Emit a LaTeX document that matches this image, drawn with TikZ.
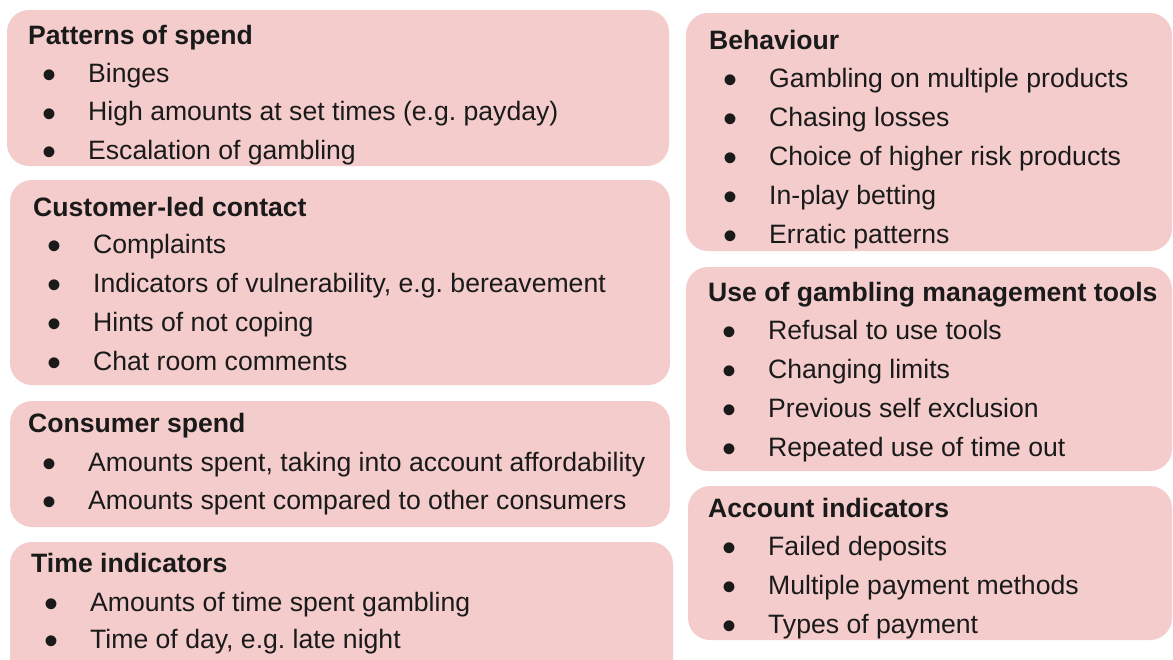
\documentclass[tikz,border=0pt]{standalone}
\usepackage{fontspec}
\setmainfont{Liberation Sans}
\usetikzlibrary{positioning}
\usepackage{xcolor}
\definecolor{boxpink}{HTML}{F4CCCC}
\definecolor{inktext}{HTML}{1A1A1A}
\newcommand{\bul}{\llap{\smash{\raisebox{-6.5pt}{\scalebox{1.5}{\textbullet}}}\hspace{32pt}}}
\frenchspacing
\tikzset{
  panel/.style={fill=boxpink, rounded corners=22pt},
  heading/.style={anchor=base west, inner sep=0pt, text=inktext, font=\fontsize{26.6pt}{32pt}\selectfont\bfseries},
  entry/.style={anchor=base west, inner sep=0pt, text=inktext, font=\fontsize{26.6pt}{32pt}\selectfont},
}

\begin{document}
\begin{tikzpicture}[x=1pt, y=-1pt]

\useasboundingbox (0,0) rectangle (1173,659);
\clip (0,0) rectangle (1173,659);

% panels
\fill[panel] (7,10) rectangle (669,166);
\fill[panel] (10,180) rectangle (670,385);
\fill[panel] (10,401) rectangle (670,527);
\fill[panel] (10,542) rectangle (673,690);
\fill[panel] (686,13) rectangle (1172,251);
\fill[panel] (686,267) rectangle (1172,471);
\fill[panel] (688,486) rectangle (1172,640);

% left column
\node[heading] (spend) at (28,44) {Patterns of spend};
\node[entry] (spend1) at (88,82) {\bul Binges};
\node[entry] (spend2) at (88,120.5) {\bul High amounts at set times (e.g. payday)};
\node[entry] (spend3) at (88,159) {\bul Escalation of gambling};

\node[heading] (contact) at (33,216) {Customer-led contact};
\node[entry] (contact1) at (93,253) {\bul Complaints};
\node[entry] (contact2) at (93,292) {\bul Indicators of vulnerability, e.g. bereavement};
\node[entry] (contact3) at (93,331) {\bul Hints of not coping};
\node[entry] (contact4) at (93,370) {\bul Chat room comments};

\node[heading] (consumer) at (28,432) {Consumer spend};
\node[entry] (consumer1) at (88,471) {\bul Amounts spent, taking into account affordability};
\node[entry] (consumer2) at (88,509) {\bul Amounts spent compared to other consumers};

\node[heading] (time) at (31,572) {Time indicators};
\node[entry] (time1) at (90,611) {\bul Amounts of time spent gambling};
\node[entry] (time2) at (90,648) {\bul Time of day, e.g. late night};

% right column
\node[heading] (behav) at (709,49) {Behaviour};
\node[entry] (behav1) at (769,87) {\bul Gambling on multiple products};
\node[entry] (behav2) at (769,126) {\bul Chasing losses};
\node[entry] (behav3) at (769,165) {\bul Choice of higher risk products};
\node[entry] (behav4) at (769,204) {\bul In-play betting};
\node[entry] (behav5) at (769,243) {\bul Erratic patterns};

\node[heading] (tools) at (708,301) {Use of gambling management tools};
\node[entry] (tools1) at (768,339) {\bul Refusal to use tools};
\node[entry] (tools2) at (768,378) {\bul Changing limits};
\node[entry] (tools3) at (768,417) {\bul Previous self exclusion};
\node[entry] (tools4) at (768,456) {\bul Repeated use of time out};

\node[heading] (account) at (708,517) {Account indicators};
\node[entry] (account1) at (768,555) {\bul Failed deposits};
\node[entry] (account2) at (768,594) {\bul Multiple payment methods};
\node[entry] (account3) at (768,633) {\bul Types of payment};

\end{tikzpicture}
\end{document}
